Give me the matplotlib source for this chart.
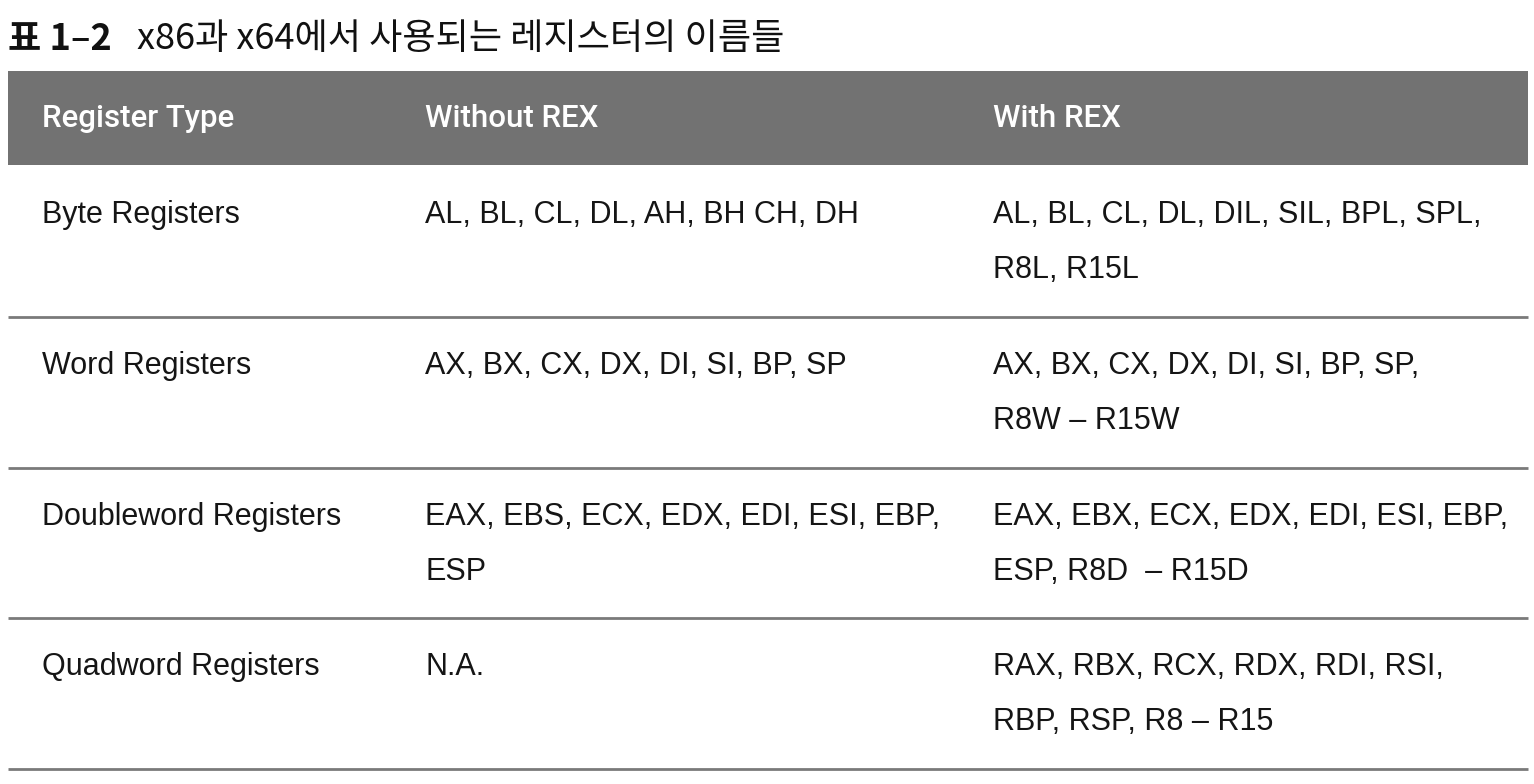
import matplotlib
matplotlib.use("Agg")
import matplotlib.pyplot as plt

# ─── 표 데이터 ───
title_num = "표 1–2"
title_text = "x86과 x64에서 사용되는 레지스터의 이름들"
headers = ["Register Type", "Without REX", "With REX"]
row_labels = ["Byte Registers", "Word Registers", "Doubleword Registers", "Quadword Registers"]
without_rex = [
    ["AL, BL, CL, DL, AH, BH CH, DH"],
    ["AX, BX, CX, DX, DI, SI, BP, SP"],
    ["EAX, EBS, ECX, EDX, EDI, ESI, EBP,", "ESP"],
    ["N.A."],
]
with_rex = [
    ["AL, BL, CL, DL, DIL, SIL, BPL, SPL,", "R8L, R15L"],
    ["AX, BX, CX, DX, DI, SI, BP, SP,", "R8W – R15W"],
    ["EAX, EBX, ECX, EDX, EDI, ESI, EBP,", "ESP, R8D  – R15D"],
    ["RAX, RBX, RCX, RDX, RDI, RSI,", "RBP, RSP, R8 – R15"],
]

HEAD = ["Roboto", "Noto Sans CJK KR", "DejaVu Sans"]
BODY = ["Liberation Sans", "Noto Sans CJK KR", "DejaVu Sans"]
KOR = ["Noto Sans CJK KR", "DejaVu Sans"]

W, H = 1534, 784
fig = plt.figure(figsize=(W / 100, H / 100), dpi=100)
ax = fig.add_axes([0, 0, 1, 1])
ax.set_xlim(0, W)
ax.set_ylim(H, 0)
ax.axis("off")

left, right = 8, 1528
col_x = [42, 425, 993]
head_top, head_bot = 71, 165
body_top = 166.3
row_h = 150.7
line_gap = 55
first_line = 49   # 행 상단에서 첫 줄 중심까지

# 제목
ax.text(left, 39, title_num, family=KOR, fontsize=26, weight="bold",
        va="center", ha="left", color="#111111")
ax.text(137, 39, title_text, family=KOR, fontsize=26,
        va="center", ha="left", color="#111111")

# 헤더 띠
ax.add_patch(plt.Rectangle((left, head_top), right - left, head_bot - head_top,
                           color="#727272", lw=0))
for x, h in zip(col_x, headers):
    ax.text(x, (head_top + head_bot) / 2, h, family=HEAD, fontsize=22.5,
            weight="medium", color="white", va="center", ha="left")

# 본문 행
for i, label in enumerate(row_labels):
    top = body_top + i * row_h
    cells = [[label], without_rex[i], with_rex[i]]
    for x, lines in zip(col_x, cells):
        for k, line in enumerate(lines):
            ax.text(x, top + first_line + k * line_gap, line, family=BODY,
                    fontsize=22, color="#151515",
                    va="center", ha="left")
    ax.plot([left, right], [top + row_h, top + row_h], color="#7a7a7a", lw=2.0,
            solid_capstyle="butt")

fig.savefig("out.png", dpi=100)
